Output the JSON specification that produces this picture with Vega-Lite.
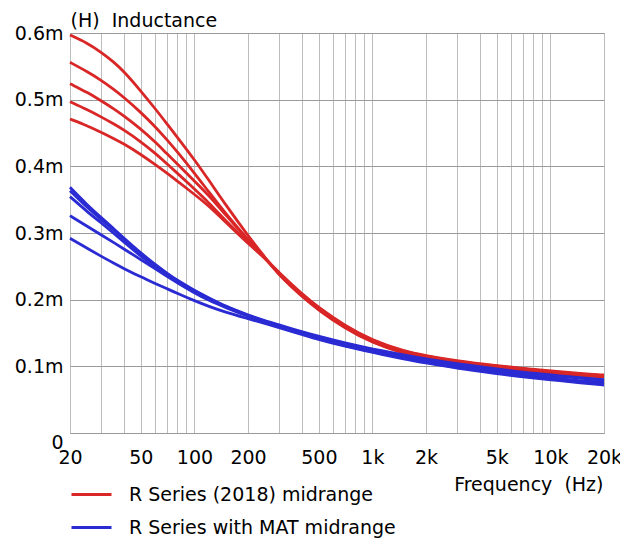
{
  "$schema": "https://vega.github.io/schema/vega-lite/v6.json",
  "width": 534,
  "height": 400,
  "autosize": {"type": "none"},
  "padding": {"left": 70, "top": 33, "right": 16, "bottom": 107},
  "background": "white",
  "config": {"view": {"stroke": "#a0a0a0", "strokeWidth": 1}, "font": "DejaVu Sans"},
  "data": {"values": [
    {"f": 20, "R1": 0.597, "R2": 0.556, "R3": 0.524, "R4": 0.497, "R5": 0.471, "B1": 0.3685, "B2": 0.3635, "B3": 0.3545, "B4": 0.326, "B5": 0.292},
    {"f": 25, "R1": 0.585, "R2": 0.542, "R3": 0.511, "R4": 0.485, "R5": 0.461, "B1": 0.342, "B2": 0.338, "B3": 0.332, "B4": 0.310, "B5": 0.277},
    {"f": 30, "R1": 0.571, "R2": 0.529, "R3": 0.498, "R4": 0.474, "R5": 0.451, "B1": 0.323, "B2": 0.320, "B3": 0.315, "B4": 0.297, "B5": 0.265},
    {"f": 35, "R1": 0.557, "R2": 0.516, "R3": 0.487, "R4": 0.464, "R5": 0.442, "B1": 0.307, "B2": 0.305, "B3": 0.300, "B4": 0.286, "B5": 0.255},
    {"f": 40, "R1": 0.543, "R2": 0.504, "R3": 0.476, "R4": 0.455, "R5": 0.434, "B1": 0.293, "B2": 0.291, "B3": 0.287, "B4": 0.2765, "B5": 0.247},
    {"f": 50, "R1": 0.513, "R2": 0.481, "R3": 0.456, "R4": 0.437, "R5": 0.418, "B1": 0.270, "B2": 0.268, "B3": 0.265, "B4": 0.260, "B5": 0.234},
    {"f": 60, "R1": 0.487, "R2": 0.460, "R3": 0.437, "R4": 0.420, "R5": 0.403, "B1": 0.253, "B2": 0.251, "B3": 0.249, "B4": 0.2465, "B5": 0.2245},
    {"f": 70, "R1": 0.464, "R2": 0.440, "R3": 0.419, "R4": 0.404, "R5": 0.390, "B1": 0.240, "B2": 0.239, "B3": 0.237, "B4": 0.235, "B5": 0.2165},
    {"f": 80, "R1": 0.444, "R2": 0.422, "R3": 0.404, "R4": 0.390, "R5": 0.378, "B1": 0.229, "B2": 0.228, "B3": 0.226, "B4": 0.2255, "B5": 0.2095},
    {"f": 100, "R1": 0.410, "R2": 0.390, "R3": 0.378, "R4": 0.366, "R5": 0.358, "B1": 0.214, "B2": 0.213, "B3": 0.211, "B4": 0.210, "B5": 0.1985},
    {"f": 120, "R1": 0.380, "R2": 0.362, "R3": 0.357, "R4": 0.346, "R5": 0.341, "B1": 0.203, "B2": 0.202, "B3": 0.201, "B4": 0.199, "B5": 0.190},
    {"f": 150, "R1": 0.342, "R2": 0.329, "R3": 0.327, "R4": 0.318, "R5": 0.316, "B1": 0.190, "B2": 0.189, "B3": 0.189, "B4": 0.188, "B5": 0.181},
    {"f": 200, "R1": 0.296, "R2": 0.290, "R3": 0.289, "R4": 0.286, "R5": 0.284, "B1": 0.177, "B2": 0.176, "B3": 0.176, "B4": 0.175, "B5": 0.1715},
    {"f": 250, "R1": 0.263, "R2": 0.263, "R3": 0.262, "R4": 0.262, "R5": 0.262, "B1": 0.168, "B2": 0.167, "B3": 0.167, "B4": 0.166, "B5": 0.164},
    {"f": 300, "R1": 0.236, "R2": 0.237, "R3": 0.238, "R4": 0.239, "R5": 0.240, "B1": 0.162, "B2": 0.161, "B3": 0.160, "B4": 0.159, "B5": 0.158},
    {"f": 400, "R1": 0.205, "R2": 0.206, "R3": 0.207, "R4": 0.208, "R5": 0.209, "B1": 0.152, "B2": 0.151, "B3": 0.150, "B4": 0.149, "B5": 0.148},
    {"f": 500, "R1": 0.184, "R2": 0.185, "R3": 0.186, "R4": 0.187, "R5": 0.188, "B1": 0.145, "B2": 0.144, "B3": 0.142, "B4": 0.141, "B5": 0.140},
    {"f": 700, "R1": 0.157, "R2": 0.158, "R3": 0.159, "R4": 0.160, "R5": 0.161, "B1": 0.135, "B2": 0.134, "B3": 0.132, "B4": 0.131, "B5": 0.130},
    {"f": 1000, "R1": 0.135, "R2": 0.136, "R3": 0.137, "R4": 0.138, "R5": 0.139, "B1": 0.126, "B2": 0.125, "B3": 0.123, "B4": 0.122, "B5": 0.121},
    {"f": 1500, "R1": 0.119, "R2": 0.120, "R3": 0.121, "R4": 0.122, "R5": 0.123, "B1": 0.117, "B2": 0.116, "B3": 0.113, "B4": 0.112, "B5": 0.111},
    {"f": 2000, "R1": 0.112, "R2": 0.113, "R3": 0.114, "R4": 0.115, "R5": 0.116, "B1": 0.111, "B2": 0.110, "B3": 0.107, "B4": 0.106, "B5": 0.105},
    {"f": 3000, "R1": 0.105, "R2": 0.106, "R3": 0.107, "R4": 0.107, "R5": 0.108, "B1": 0.104, "B2": 0.103, "B3": 0.100, "B4": 0.098, "B5": 0.097},
    {"f": 5000, "R1": 0.098, "R2": 0.099, "R3": 0.100, "R4": 0.100, "R5": 0.101, "B1": 0.096, "B2": 0.095, "B3": 0.092, "B4": 0.090, "B5": 0.089},
    {"f": 7000, "R1": 0.094, "R2": 0.095, "R3": 0.096, "R4": 0.096, "R5": 0.097, "B1": 0.091, "B2": 0.090, "B3": 0.087, "B4": 0.085, "B5": 0.084},
    {"f": 10000, "R1": 0.090, "R2": 0.091, "R3": 0.092, "R4": 0.092, "R5": 0.093, "B1": 0.087, "B2": 0.086, "B3": 0.083, "B4": 0.081, "B5": 0.080},
    {"f": 15000, "R1": 0.086, "R2": 0.087, "R3": 0.088, "R4": 0.088, "R5": 0.089, "B1": 0.083, "B2": 0.082, "B3": 0.078, "B4": 0.076, "B5": 0.075},
    {"f": 20000, "R1": 0.084, "R2": 0.085, "R3": 0.086, "R4": 0.086, "R5": 0.087, "B1": 0.080, "B2": 0.079, "B3": 0.076, "B4": 0.073, "B5": 0.072}
  ]},
  "layer": [
    {
      "transform": [{"fold": ["R1", "R2", "R3", "R4", "R5"], "as": ["curve", "L"]}],
      "mark": {"type": "line", "strokeWidth": 2.8, "interpolate": "basis"},
      "encoding": {
        "x": {
          "field": "f", "type": "quantitative",
          "scale": {"type": "log", "domain": [20, 20000], "nice": false},
          "axis": {
            "values": [20, 30, 40, 50, 60, 70, 80, 90, 100, 200, 300, 400, 500, 600, 700, 800, 900, 1000, 2000, 3000, 4000, 5000, 6000, 7000, 8000, 9000, 10000, 20000],
            "labelExpr": "indexof([20, 50, 100, 200, 500, 1000, 2000, 5000, 10000, 20000], datum.value) >= 0 ? (datum.value >= 1000 ? (datum.value / 1000) + 'k' : '' + datum.value) : ''",
            "grid": true, "gridColor": "#bdbdbd", "gridWidth": 1,
            "ticks": false, "domain": false,
            "labelFont": "DejaVu Sans", "labelFontSize": 19, "labelColor": "#000000", "labelPadding": 15,
            "labelFlush": false, "labelOverlap": false, "labelBound": false,
            "title": "Frequency\u00a0\u00a0(Hz)", "titleFont": "DejaVu Sans", "titleFontSize": 19, "titleFontWeight": "normal", "titleColor": "#000000",
            "titleAnchor": "end", "titleAlign": "right", "titleBaseline": "alphabetic", "titleX": 533, "titleY": 57
          }
        },
        "y": {
          "field": "L", "type": "quantitative",
          "scale": {"domain": [0, 0.6], "nice": false},
          "axis": {
            "values": [0, 0.1, 0.2, 0.3, 0.4, 0.5, 0.6],
            "labelExpr": "datum.value == 0 ? '0\u00a0' : format(datum.value, '.1f') + 'm'",
            "labelBaseline": {"condition": {"test": "datum.value == 0", "value": "top"}, "value": "middle"},
            "grid": true, "gridColor": "#9a9a9a", "gridWidth": 1,
            "ticks": false, "domain": false,
            "labelFont": "DejaVu Sans", "labelFontSize": 19, "labelColor": "#000000", "labelPadding": 7,
            "title": "(H)\u00a0\u00a0Inductance", "titleFont": "DejaVu Sans", "titleFontSize": 19, "titleFontWeight": "normal", "titleColor": "#000000",
            "titleAngle": 0, "titleAlign": "left", "titleBaseline": "alphabetic", "titleX": 0, "titleY": -7
          }
        },
        "color": {
          "datum": "R Series (2018) midrange",
          "scale": {"domain": ["R Series (2018) midrange", "R Series with MAT midrange"], "range": ["#d92626", "#2b2bd4"]},
          "legend": {
            "orient": "none", "legendX": 0, "legendY": 440, "title": null,
            "symbolType": "stroke", "symbolSize": 1600, "symbolStrokeWidth": 3,
            "labelFont": "DejaVu Sans", "labelFontSize": 19, "labelColor": "#000000", "labelOffset": 16,
            "rowPadding": 1, "padding": 0, "labelLimit": 400
          }
        },
        "detail": {"field": "curve"}
      }
    },
    {
      "transform": [{"fold": ["B1", "B2", "B3", "B4", "B5"], "as": ["curve", "L"]}],
      "mark": {"type": "line", "strokeWidth": 2.8, "interpolate": "basis"},
      "encoding": {
        "x": {"field": "f", "type": "quantitative"},
        "y": {"field": "L", "type": "quantitative"},
        "color": {"datum": "R Series with MAT midrange"},
        "detail": {"field": "curve"}
      }
    }
  ]
}
